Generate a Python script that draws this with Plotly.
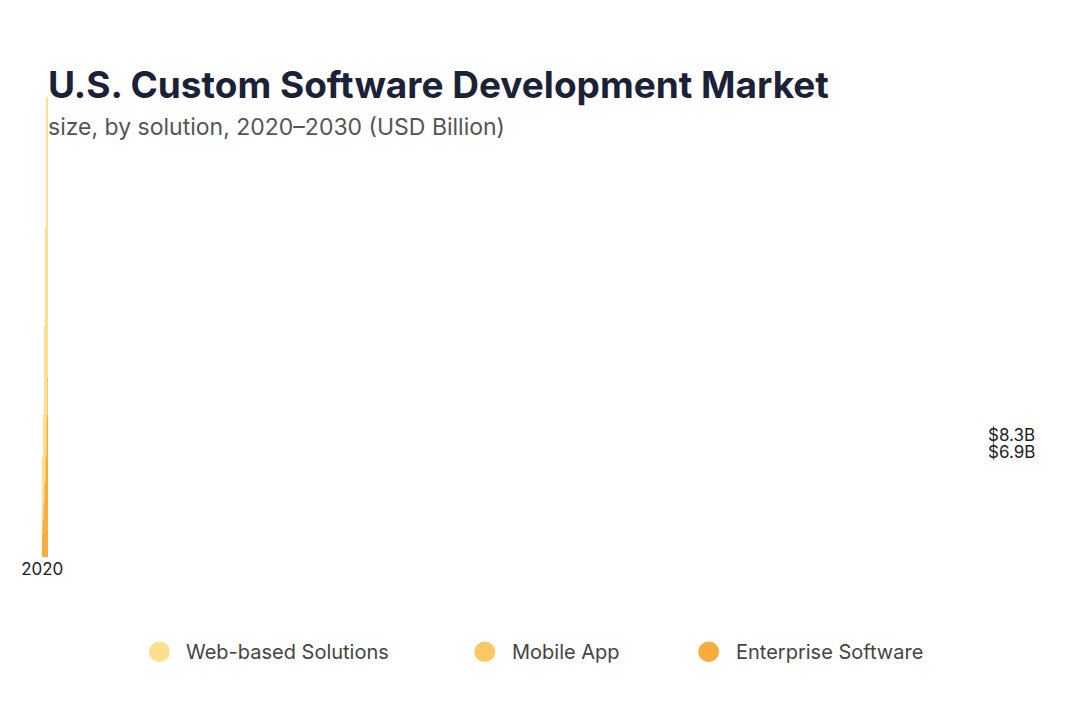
import plotly.graph_objects as go

years = ["2020", "2021", "2022", "2023", "2024", "2025", "2026", "2027", "2028", "2029", "2030"]
web = [3.74, 4.65, 5.40, 6.57, 7.48, 9.14, 10.97, 13.30, 16.04, 19.28, 23.43]
mobile = [1.25, 1.50, 1.58, 1.75, 1.91, 2.08, 2.08, 2.49, 2.83, 2.99, 3.07]
enterprise = [1.91, 2.15, 2.99, 3.57, 4.32, 5.24, 6.15, 6.98, 8.48, 10.05, 11.80]
labels = {"2020": "$6.9B", "2021": "$8.3B"}

c_web, c_mob, c_ent = "#FDDF8E", "#FBC865", "#F9AD3E"

fig = go.Figure()
for name, vals, col in [("Enterprise Software", enterprise, c_ent),
                        ("Mobile App", mobile, c_mob),
                        ("Web-based Solutions", web, c_web)]:
    fig.add_trace(go.Bar(x=years, y=vals, marker_color=col, marker_line_width=0,
                         showlegend=False, name=name))

totals = [w + m + e for w, m, e in zip(web, mobile, enterprise)]
for i, y in enumerate(years):
    if y in labels:
        fig.add_annotation(x=y, y=totals[i], text=labels[y], showarrow=False,
                           yanchor="bottom", yshift=10, font=dict(size=17, color="#222"))

fig.add_annotation(xref="paper", yref="paper", x=0.004, y=0.983, xanchor="left", yanchor="middle",
                   text="<b>U.S. Custom Software Development Market</b>", showarrow=False,
                   font=dict(size=37, color="#1b2238", family="Inter"))
fig.add_annotation(xref="paper", yref="paper", x=0.004, y=0.893, xanchor="left", yanchor="middle",
                   text="size, by solution, 2020–2030 (USD Billion)", showarrow=False,
                   font=dict(size=23, color="#555", family="Inter"))

# manual legend with round markers
legend_items = [("Web-based Solutions", c_web, 0.118), ("Mobile App", c_mob, 0.445), ("Enterprise Software", c_ent, 0.670)]
ly = -0.197
for name, col, lx in legend_items:
    fig.add_shape(type="circle", xref="paper", yref="paper", x0=lx - 0.0105, x1=lx + 0.0105,
                  y0=ly - 0.0215, y1=ly + 0.0215, fillcolor=col, line_width=0)
    fig.add_annotation(xref="paper", yref="paper", x=lx + 0.025, y=ly, xanchor="left", yanchor="middle",
                       text=name, showarrow=False, font=dict(size=20, color="#444"))

fig.update_layout(
    width=1081, height=720, barmode="stack", bargap=0.45, barcornerradius=8,
    plot_bgcolor="white", paper_bgcolor="white", showlegend=False,
    margin=dict(l=34, r=52, t=68, b=171),
    font=dict(family="Inter", color="#333"),
    xaxis=dict(type="category", showline=False, showgrid=False, ticks="",
               tickfont=dict(size=17, color="#222")),
    yaxis=dict(visible=False, range=[0, 40]),
)
fig.write_html("out.html")
